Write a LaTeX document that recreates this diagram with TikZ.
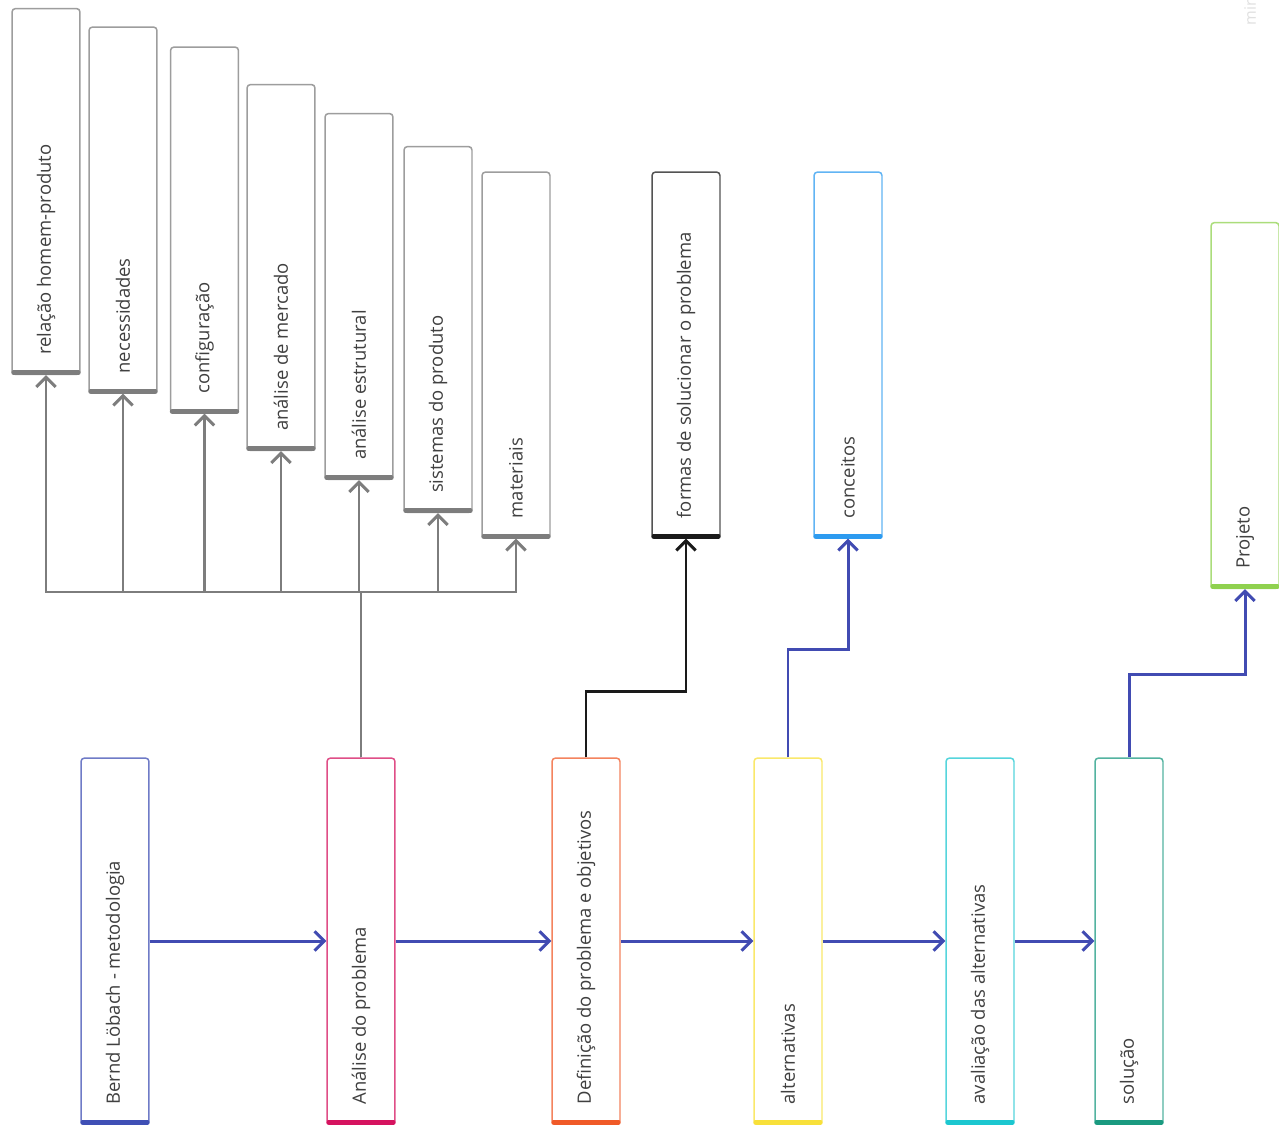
\documentclass[tikz,border=0pt]{standalone}
\usepackage{fontspec}
\setsansfont{Open Sans}
\usepackage{tikz}
\usetikzlibrary{arrows.meta,calc}
\definecolor{clrgrey}{HTML}{7D7D7D}
\definecolor{clrblack}{HTML}{1A1A1A}
\definecolor{clrlink}{HTML}{414BB2}
\definecolor{clrbernd}{HTML}{3F4FB5}
\definecolor{clranalise}{HTML}{D5135F}
\definecolor{clrdef}{HTML}{F05A28}
\definecolor{clralt}{HTML}{F8E03A}
\definecolor{clraval}{HTML}{1CC7D0}
\definecolor{clrsol}{HTML}{1A9A80}
\definecolor{clrconc}{HTML}{2D9BF0}
\definecolor{clrproj}{HTML}{8FD14F}
\newcommand{\cardfont}{\sffamily\fontsize{10.5}{12}\selectfont}

\tikzset{
    card/.style={draw=#1!75!white, fill=white, rounded corners=0.07cm, line width=0.85pt,
        minimum width=1.36cm, minimum height=7.32cm, inner sep=0pt},
    cardtext/.style={rotate=90, anchor=west, font=\cardfont, text=black!75, inner sep=0pt},
    bar/.style={line width=0.1cm, line cap=round, draw=#1},
    link/.style={line width=1.7pt, draw=#1, -{Straight Barb[length=5.5pt,width=11pt]}},
}

\begin{document}
\begin{tikzpicture}[x=0.02cm, y=-0.02cm]
    \useasboundingbox[fill=white] (0,0) rectangle (1279,1136);
    \node[cardtext, text=black!12, font=\sffamily\small] (mark) at (1250,26) {mir};

%top row
    \foreach \i/\x/\y/\txt in {1/46/191.5/relação homem-produto, 2/123/210/necessidades,
        3/204.5/230/configuração, 4/281/267.5/análise de mercado, 5/359/296.5/análise estrutural,
        6/438/329.5/sistemas do produto, 7/516/355/materiais} {
        \node[card=clrgrey] (top\i) at (\x,\y) {};
        \node[cardtext] at ([yshift=0.4cm]top\i.south) {\txt};
        \draw[bar=clrgrey] ([xshift=0.05cm,yshift=0.05cm]top\i.south west) -- ([xshift=-0.05cm,yshift=0.05cm]top\i.south east);
    }
    \foreach \name/\x/\y/\clr/\txt in {formas/686/355/clrblack/formas de solucionar o problema,
        conceitos/848/355/clrconc/conceitos, projeto/1245/405.5/clrproj/Projeto} {
        \node[card=\clr] (\name) at (\x,\y) {};
        \node[cardtext] at ([yshift=0.4cm]\name.south) {\txt};
        \draw[bar=\clr] ([xshift=0.05cm,yshift=0.05cm]\name.south west) -- ([xshift=-0.05cm,yshift=0.05cm]\name.south east);
    }

%bottom row
    \foreach \name/\x/\clr/\txt in {bernd/115/clrbernd/Bernd Löbach - metodologia,
        analise/361/clranalise/Análise do problema, definicao/586/clrdef/Definição do problema e objetivos,
        alternativas/788/clralt/alternativas, avaliacao/980/clraval/avaliação das alternativas,
        solucao/1129/clrsol/solução} {
        \node[card=\clr] (\name) at (\x,941) {};
        \node[cardtext] at ([yshift=0.4cm]\name.south) {\txt};
        \draw[bar=\clr] ([xshift=0.05cm,yshift=0.05cm]\name.south west) -- ([xshift=-0.05cm,yshift=0.05cm]\name.south east);
    }

    \draw[link=clrlink] (bernd) -- (analise);
    \draw[link=clrlink] (analise) -- (definicao);
    \draw[link=clrlink] (definicao) -- (alternativas);
    \draw[link=clrlink] (alternativas) -- (avaliacao);
    \draw[link=clrlink] (avaliacao) -- (solucao);

%branches
    \coordinate (split) at (361,592);
    \foreach \i in {1,...,7} {
        \draw[link=clrgrey] (analise.north) -- (split) -| (top\i.south);
    }
    \coordinate (bend1) at (0,691);
    \coordinate (bend2) at (0,649);
    \coordinate (bend3) at (0,674);
    \draw[link=clrblack] (definicao.north) -- (definicao.north |- bend1) -| (formas.south);
    \draw[link=clrlink] (alternativas.north) -- (alternativas.north |- bend2) -| (conceitos.south);
    \draw[link=clrlink] (solucao.north) -- (solucao.north |- bend3) -| (projeto.south);
\end{tikzpicture}
\end{document}
